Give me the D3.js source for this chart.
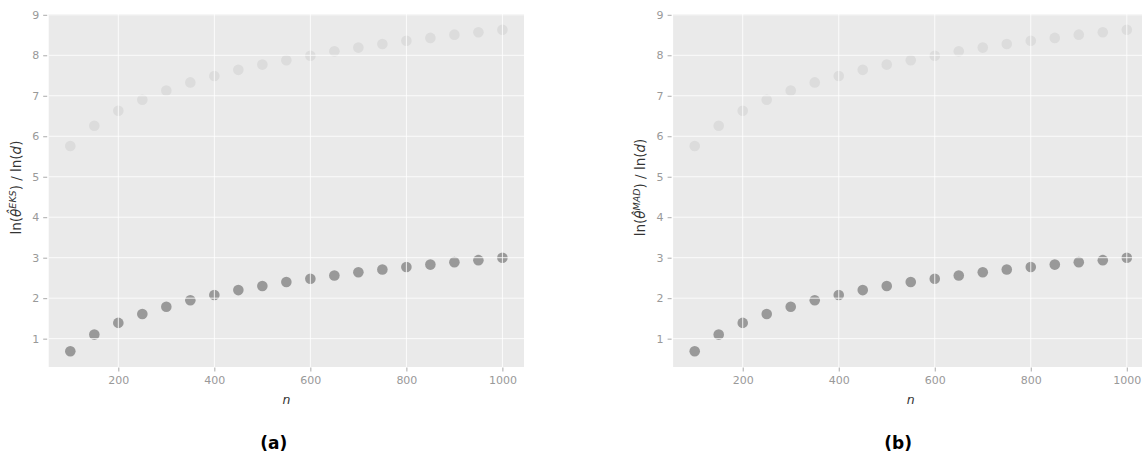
<!DOCTYPE html>
<html>
<head>
<meta charset="utf-8">
<script src="https://cdn.jsdelivr.net/npm/d3@7"></script>
<style>
  html, body { margin: 0; padding: 0; background: #fff; }
  svg { display: block; }
  text { font-family: "DejaVu Sans", sans-serif; }
</style>
</head>
<body>
<svg id="chart" width="1142" height="456"></svg>
<script>
// ---- data ----
const nValues = [100, 150, 200, 250, 300, 350, 400, 450, 500, 550, 600, 650, 700, 750, 800, 850, 900, 950, 1000];
const upperSeries = [5.76, 6.26, 6.63, 6.90, 7.13, 7.33, 7.49, 7.64, 7.77, 7.88, 7.99, 8.10, 8.19, 8.28, 8.36, 8.43, 8.51, 8.57, 8.63];
const lowerSeries = [0.69, 1.10, 1.39, 1.61, 1.79, 1.95, 2.08, 2.20, 2.30, 2.40, 2.48, 2.56, 2.64, 2.71, 2.77, 2.83, 2.89, 2.94, 3.00];
const xTicks = [200, 400, 600, 800, 1000];
const yTicks = [1, 2, 3, 4, 5, 6, 7, 8, 9];
const panelCaptions = ["(a)", "(b)"];
const panelSuperscripts = ["EKS", "MAD"];

// ---- layout ----
const svg = d3.select("#chart");
const panelW = 475.3, plotTop = 14, plotBottom = 367;
const panelOffsets = [48.7, 673.1];

panelOffsets.forEach((left, i) => {
  const x = d3.scaleLinear().domain([55, 1045]).range([left, left + panelW]);
  const y = d3.scaleLinear().domain([0.3, 9.02]).range([plotBottom, plotTop]);
  const g = svg.append("g");

  g.append("rect")
    .attr("x", left).attr("y", plotTop)
    .attr("width", panelW).attr("height", plotBottom - plotTop)
    .attr("fill", "#eaeaea");

  // points (under grid)
  g.append("g").selectAll("circle").data(nValues.map((n, k) => [n, upperSeries[k]]))
    .join("circle")
    .attr("cx", d => x(d[0])).attr("cy", d => y(d[1])).attr("r", 5.3)
    .attr("fill", "#dcdcdc");
  g.append("g").selectAll("circle").data(nValues.map((n, k) => [n, lowerSeries[k]]))
    .join("circle")
    .attr("cx", d => x(d[0])).attr("cy", d => y(d[1])).attr("r", 5.3)
    .attr("fill", "#999999");

  // gridlines
  g.append("g").selectAll("line.v").data(xTicks).join("line")
    .attr("x1", d => x(d)).attr("x2", d => x(d))
    .attr("y1", plotTop).attr("y2", plotBottom)
    .attr("stroke", "#ffffff").attr("stroke-width", 1).attr("opacity", 0.85);
  g.append("g").selectAll("line.h").data(yTicks).join("line")
    .attr("x1", left).attr("x2", left + panelW)
    .attr("y1", d => y(d)).attr("y2", d => y(d))
    .attr("stroke", "#ffffff").attr("stroke-width", 1).attr("opacity", 0.85);

  // axes
  const xAxis = g.append("g").attr("transform", `translate(0,${plotBottom + 0.5})`)
    .call(d3.axisBottom(x).tickValues(xTicks).tickFormat(d3.format("d")).tickSize(4).tickPadding(5));
  const yAxis = g.append("g").attr("transform", `translate(${left - 1.5},0)`)
    .call(d3.axisLeft(y).tickValues(yTicks).tickFormat(d3.format("d")).tickSize(4).tickPadding(4));
  [xAxis, yAxis].forEach(ax => {
    ax.select(".domain").remove();
    ax.selectAll(".tick line").attr("stroke", "#aaaaaa");
    ax.selectAll(".tick text").attr("fill", "#999999")
      .style("font-family", "DejaVu Sans, sans-serif").style("font-size", "11px");
  });

  // x label
  g.append("text")
    .attr("x", left + panelW / 2).attr("y", 404)
    .attr("text-anchor", "middle")
    .attr("fill", "#333")
    .style("font-size", "12.5px").style("font-style", "italic")
    .text("n");

  // y label
  const yl = g.append("text")
    .attr("transform", `translate(${left - 28},${(plotTop + plotBottom) / 2 - 3}) rotate(-90)`)
    .attr("text-anchor", "middle")
    .attr("fill", "#333")
    .style("font-size", "13.5px");
  yl.append("tspan").text("ln(");
  yl.append("tspan").style("font-style", "italic").text("θ\u0302");
  yl.append("tspan").attr("dy", -5).style("font-size", "9.5px").style("font-style", "italic").text(panelSuperscripts[i]);
  yl.append("tspan").attr("dy", 5).text(") / ln(");
  yl.append("tspan").style("font-style", "italic").text("d");
  yl.append("tspan").text(")");

  // caption
  g.append("text")
    .attr("x", left + 225).attr("y", 449)
    .attr("text-anchor", "middle")
    .attr("fill", "#000")
    .style("font-size", "17px").style("font-weight", "bold")
    .text(panelCaptions[i]);
});
</script>
</body>
</html>
